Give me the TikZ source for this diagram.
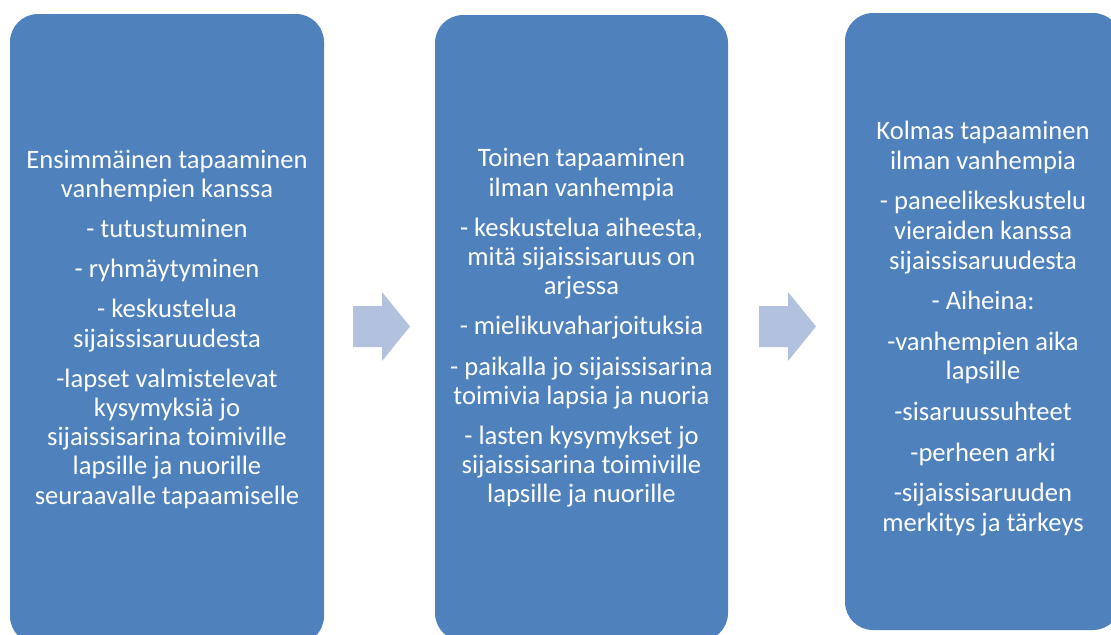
\documentclass[tikz,border=0pt]{standalone}
\usepackage{fontspec}
\setmainfont{Carlito}
\usetikzlibrary{positioning}

\definecolor{boxblue}{HTML}{4F81BD}
\definecolor{flowblue}{HTML}{B2C1DD}

\begin{document}
\begin{tikzpicture}[x=0.5pt, y=-0.5pt,
		stage/.style={fill=boxblue, rounded corners=14pt, inner sep=0pt},
		stagetext/.style={text=white, align=center, inner sep=0pt, font=\fontsize{13.3}{14.6}\selectfont},
		flow/.style={fill=flowblue}
		]
		
		\useasboundingbox (0,0) rectangle (1111,634);
		
		% First meeting
		\node[stage, stagetext, minimum width=157pt, minimum height=315pt] (meet1) at (167, 329) {Ensimmäinen tapaaminen\\ vanhempien kanssa\\[5.5pt] - tutustuminen\\[5.5pt] - ryhmäytyminen\\[5.5pt] - keskustelua\\ sijaissisaruudesta\\[5.5pt] -lapset valmistelevat\\ kysymyksiä jo\\ sijaissisarina toimiville\\ lapsille ja nuorille\\ seuraavalle tapaamiselle};
		
		% Second meeting
		\node[stage, stagetext, minimum width=146.5pt, minimum height=313pt] (meet2) at (581.5, 328) {Toinen tapaaminen\\ ilman vanhempia\\[5.5pt] - keskustelua aiheesta,\\ mitä sijaissisaruus on\\ arjessa\\[5.5pt] - mielikuvaharjoituksia\\[5.5pt] - paikalla jo sijaissisarina\\ toimivia lapsia ja nuoria\\[5.5pt] - lasten kysymykset jo\\ sijaissisarina toimiville\\ lapsille ja nuorille};
		
		% Third meeting (box is shorter, text sits a little low)
		\node[stage, minimum width=138pt, minimum height=308.5pt] (meet3) at (983, 321.5) {};
		\node[stagetext, font=\fontsize{13.3}{14.8}\selectfont] (meet3txt) at (983, 328.5) {Kolmas tapaaminen\\ ilman vanhempia\\[5.5pt] - paneelikeskustelu\\ vieraiden kanssa\\ sijaissisaruudesta\\[5.5pt] - Aiheina:\\[5.5pt] -vanhempien aika\\ lapsille\\[5.5pt] -sisaruussuhteet\\[5.5pt] -perheen arki\\[5.5pt] -sijaissisaruuden\\ merkitys ja tärkeys};
		
		% Block arrows between the meetings
		\foreach \ax in {353, 759} {
			\fill[flow] (\ax, 306) -- ++(29, 0) -- ++(0, -14) -- ++(28, 34.5) -- ++(-28, 34.5) -- ++(0, -14) -- ++(-29, 0) -- cycle;
		}
		
	\end{tikzpicture}
\end{document}
